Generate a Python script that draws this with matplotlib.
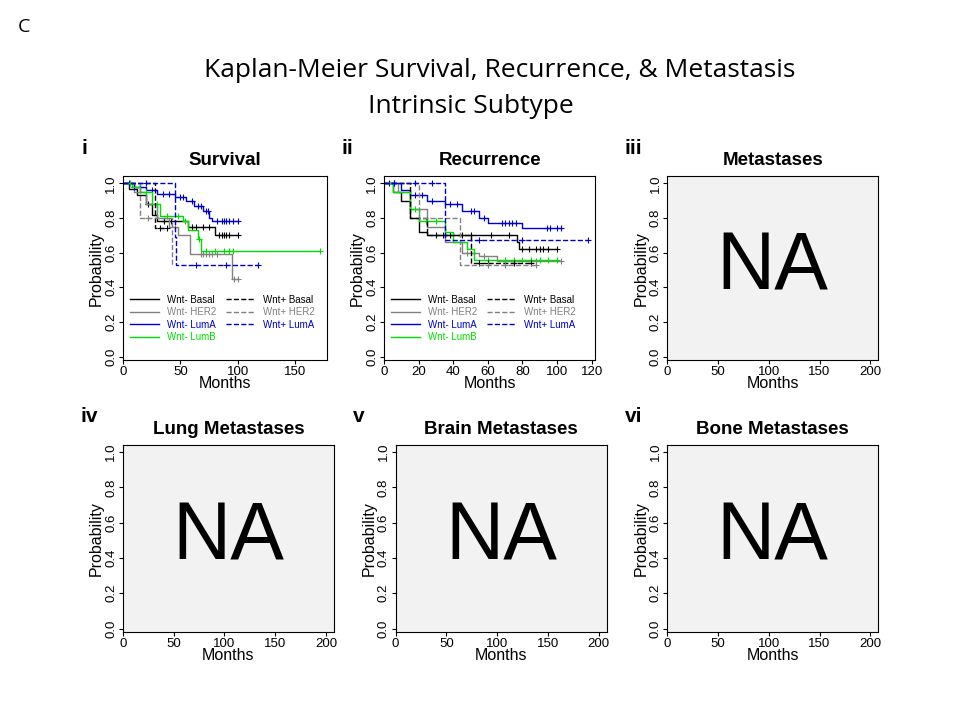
import numpy as np
import matplotlib
matplotlib.use('Agg')
import matplotlib.pyplot as plt

plt.rcParams['font.family'] = ['Liberation Sans', 'DejaVu Sans'] # Arial-like font for panels.

# Survival curves: (times of drops, probability after each drop, end time, censor times)
surv_basal_t = [0, 5, 12, 20, 25, 30, 57, 80]
surv_basal_s = [1.0, 0.97, 0.93, 0.88, 0.82, 0.78, 0.75, 0.70]
surv_basal_c = [22, 36, 42, 60, 64, 70, 75, 84, 86, 88, 90, 92, 100]
surv_her2_t = [0, 10, 20, 30, 40, 48, 58, 95]
surv_her2_s = [1.0, 0.95, 0.88, 0.80, 0.75, 0.70, 0.59, 0.45]
surv_her2_c = [45, 68, 70, 72, 75, 78, 82, 97, 100]
surv_luma_t = [0, 10, 20, 30, 45, 55, 62, 70, 75, 78]
surv_luma_s = [1.0, 0.98, 0.96, 0.94, 0.92, 0.90, 0.87, 0.84, 0.80, 0.78]
surv_luma_c = [5, 10, 15, 25, 35, 40, 50, 52, 60, 65, 68, 72, 74, 82, 86, 88, 90, 92, 96, 100]
surv_lumb_t = [0, 8, 15, 25, 32, 52, 57, 65, 68]
surv_lumb_s = [1.0, 0.98, 0.95, 0.88, 0.81, 0.78, 0.73, 0.68, 0.61]
surv_lumb_c = [6, 20, 30, 38, 48, 54, 66, 72, 80, 88, 92, 96, 172]
surv_pbasal_t = [0, 28]
surv_pbasal_s = [1.0, 0.74]
surv_pbasal_c = [32, 38]
surv_pher2_t = [0, 15, 43]
surv_pher2_s = [1.0, 0.80, 0.53]
surv_pher2_c = [22]
surv_pluma_t = [0, 45, 46]
surv_pluma_s = [1.0, 0.69, 0.53]
surv_pluma_c = [20, 64, 90, 118]

# Recurrence curves
rec_basal_t = [0, 5, 10, 15, 20, 25, 77, 78]
rec_basal_s = [1.0, 0.95, 0.90, 0.80, 0.72, 0.70, 0.66, 0.62]
rec_basal_c = [30, 34, 38, 45, 50, 62, 72, 80, 84, 88, 90, 92, 95, 100]
rec_her2_t = [0, 8, 15, 25, 35, 45, 55, 65]
rec_her2_s = [1.0, 0.95, 0.85, 0.75, 0.66, 0.60, 0.58, 0.55]
rec_her2_c = [48, 52, 58, 70, 88, 102]
rec_luma_t = [0, 10, 15, 25, 35, 45, 55, 60, 80]
rec_luma_s = [1.0, 0.96, 0.93, 0.90, 0.88, 0.84, 0.80, 0.77, 0.74]
rec_luma_c = [3, 6, 18, 22, 28, 38, 42, 50, 52, 58, 68, 70, 72, 74, 76, 94, 96, 100, 102]
rec_lumb_t = [0, 5, 15, 20, 35, 40, 48, 52]
rec_lumb_s = [1.0, 0.95, 0.85, 0.78, 0.72, 0.66, 0.62, 0.56]
rec_lumb_c = [18, 24, 30, 60, 70, 75, 80, 85, 90, 95, 100]
rec_pbasal_t = [0, 15, 25, 50]
rec_pbasal_s = [1.0, 0.80, 0.70, 0.54]
rec_pbasal_c = [55, 60, 75, 85]
rec_pher2_t = [0, 20, 44]
rec_pher2_s = [1.0, 0.80, 0.53]
rec_pher2_c = [60, 70, 88]
rec_pluma_t = [0, 35]
rec_pluma_s = [1.0, 0.67]
rec_pluma_c = [6, 18, 28, 55, 80, 118]

legend_labels = ['Wnt- Basal', 'Wnt- HER2', 'Wnt- LumA', 'Wnt- LumB', 'Wnt+ Basal', 'Wnt+ HER2', 'Wnt+ LumA']
legend_colors = ['black', 'grey', '#0000cc', '#00dd00', 'black', 'grey', '#0000cc']
legend_styles = ['-', '-', '-', '-', '--', '--', '--']

fig = plt.figure(figsize=(9.6, 7.2), dpi=100)
fig.text(0.018, 0.955, 'C', fontsize=14, family='Open Sans')
fig.text(0.52, 0.893, 'Kaplan-Meier Survival, Recurrence, & Metastasis', ha='center', fontsize=19, family='Open Sans')
fig.text(0.49, 0.843, 'Intrinsic Subtype', ha='center', fontsize=19, family='Open Sans')


def km(ax, t, s, cens, color, ls):
    t_end = max(max(cens), t[-1])
    ax.step(t + [t_end], s + [s[-1]], where='post', color=color, linestyle=ls, linewidth=1) # Step curve.
    idx = np.searchsorted(t, cens, side='right') - 1
    ax.plot(cens, np.array(s)[idx], '+', color=color, markersize=5, markeredgewidth=0.8) # Censor ticks.


def frame(ax, title, xmax, xticks):
    ax.set_xlim(0, xmax)
    ax.set_ylim(-0.02, 1.04)
    ax.set_xticks(xticks)
    ax.set_yticks([0.0, 0.2, 0.4, 0.6, 0.8, 1.0])
    ax.set_yticklabels(['0.0', '0.2', '0.4', '0.6', '0.8', '1.0'], rotation=90, va='center')
    ax.tick_params(labelsize=9.5, length=3, pad=1)
    ax.set_xlabel('Months', fontsize=11.5, labelpad=-1)
    ax.set_ylabel('Probability', fontsize=11.5, labelpad=1)
    ax.set_title(title, fontsize=13.5, fontweight='bold', pad=8)


positions = [[0.128, 0.50, 0.213, 0.255], [0.400, 0.50, 0.220, 0.255], [0.695, 0.50, 0.220, 0.255],
             [0.128, 0.122, 0.220, 0.26], [0.412, 0.122, 0.220, 0.26], [0.695, 0.122, 0.220, 0.26]]
titles = ['Survival', 'Recurrence', 'Metastases', 'Lung Metastases', 'Brain Metastases', 'Bone Metastases']
numerals = ['i', 'ii', 'iii', 'iv', 'v', 'vi']

axes = [fig.add_axes(p) for p in positions]

# Panel i: survival
ax = axes[0]
km(ax, surv_basal_t, surv_basal_s, surv_basal_c, 'black', '-')
km(ax, surv_her2_t, surv_her2_s, surv_her2_c, 'grey', '-')
km(ax, surv_luma_t, surv_luma_s, surv_luma_c, '#0000cc', '-')
km(ax, surv_lumb_t, surv_lumb_s, surv_lumb_c, '#00dd00', '-')
km(ax, surv_pbasal_t, surv_pbasal_s, surv_pbasal_c, 'black', '--')
km(ax, surv_pher2_t, surv_pher2_s, surv_pher2_c, 'grey', '--')
km(ax, surv_pluma_t, surv_pluma_s, surv_pluma_c, '#0000cc', '--')
frame(ax, 'Survival', 178, [0, 50, 100, 150])

# Panel ii: recurrence
ax = axes[1]
km(ax, rec_basal_t, rec_basal_s, rec_basal_c, 'black', '-')
km(ax, rec_her2_t, rec_her2_s, rec_her2_c, 'grey', '-')
km(ax, rec_luma_t, rec_luma_s, rec_luma_c, '#0000cc', '-')
km(ax, rec_lumb_t, rec_lumb_s, rec_lumb_c, '#00dd00', '-')
km(ax, rec_pbasal_t, rec_pbasal_s, rec_pbasal_c, 'black', '--')
km(ax, rec_pher2_t, rec_pher2_s, rec_pher2_c, 'grey', '--')
km(ax, rec_pluma_t, rec_pluma_s, rec_pluma_c, '#0000cc', '--')
frame(ax, 'Recurrence', 122, [0, 20, 40, 60, 80, 100, 120])

for ax in axes[:2]:
    handles = [plt.Line2D([], [], color=c, linestyle=l, linewidth=1) for c, l in zip(legend_colors, legend_styles)]
    leg = ax.legend(handles, legend_labels, ncol=2, fontsize=7, frameon=False, loc='lower left',
                    bbox_to_anchor=(0.0, 0.06), handlelength=3, labelspacing=0.25,
                    columnspacing=1.0, borderpad=0.2)
    for txt, c in zip(leg.get_texts(), legend_colors):
        txt.set_color(c)

# Panels iii-vi: not available
for ax, title in zip(axes[2:], titles[2:]):
    ax.set_facecolor('#f2f2f2')
    ax.text(0.5, 0.5, 'NA', transform=ax.transAxes, ha='center', va='center', fontsize=58)
    frame(ax, title, 208, [0, 50, 100, 150, 200])

for ax, num in zip(axes, numerals):
    ax.text(-0.2, 1.1, num, transform=ax.transAxes, fontsize=15, fontweight='bold', va='bottom')

plt.savefig('out.png') # Save plot as a png.
